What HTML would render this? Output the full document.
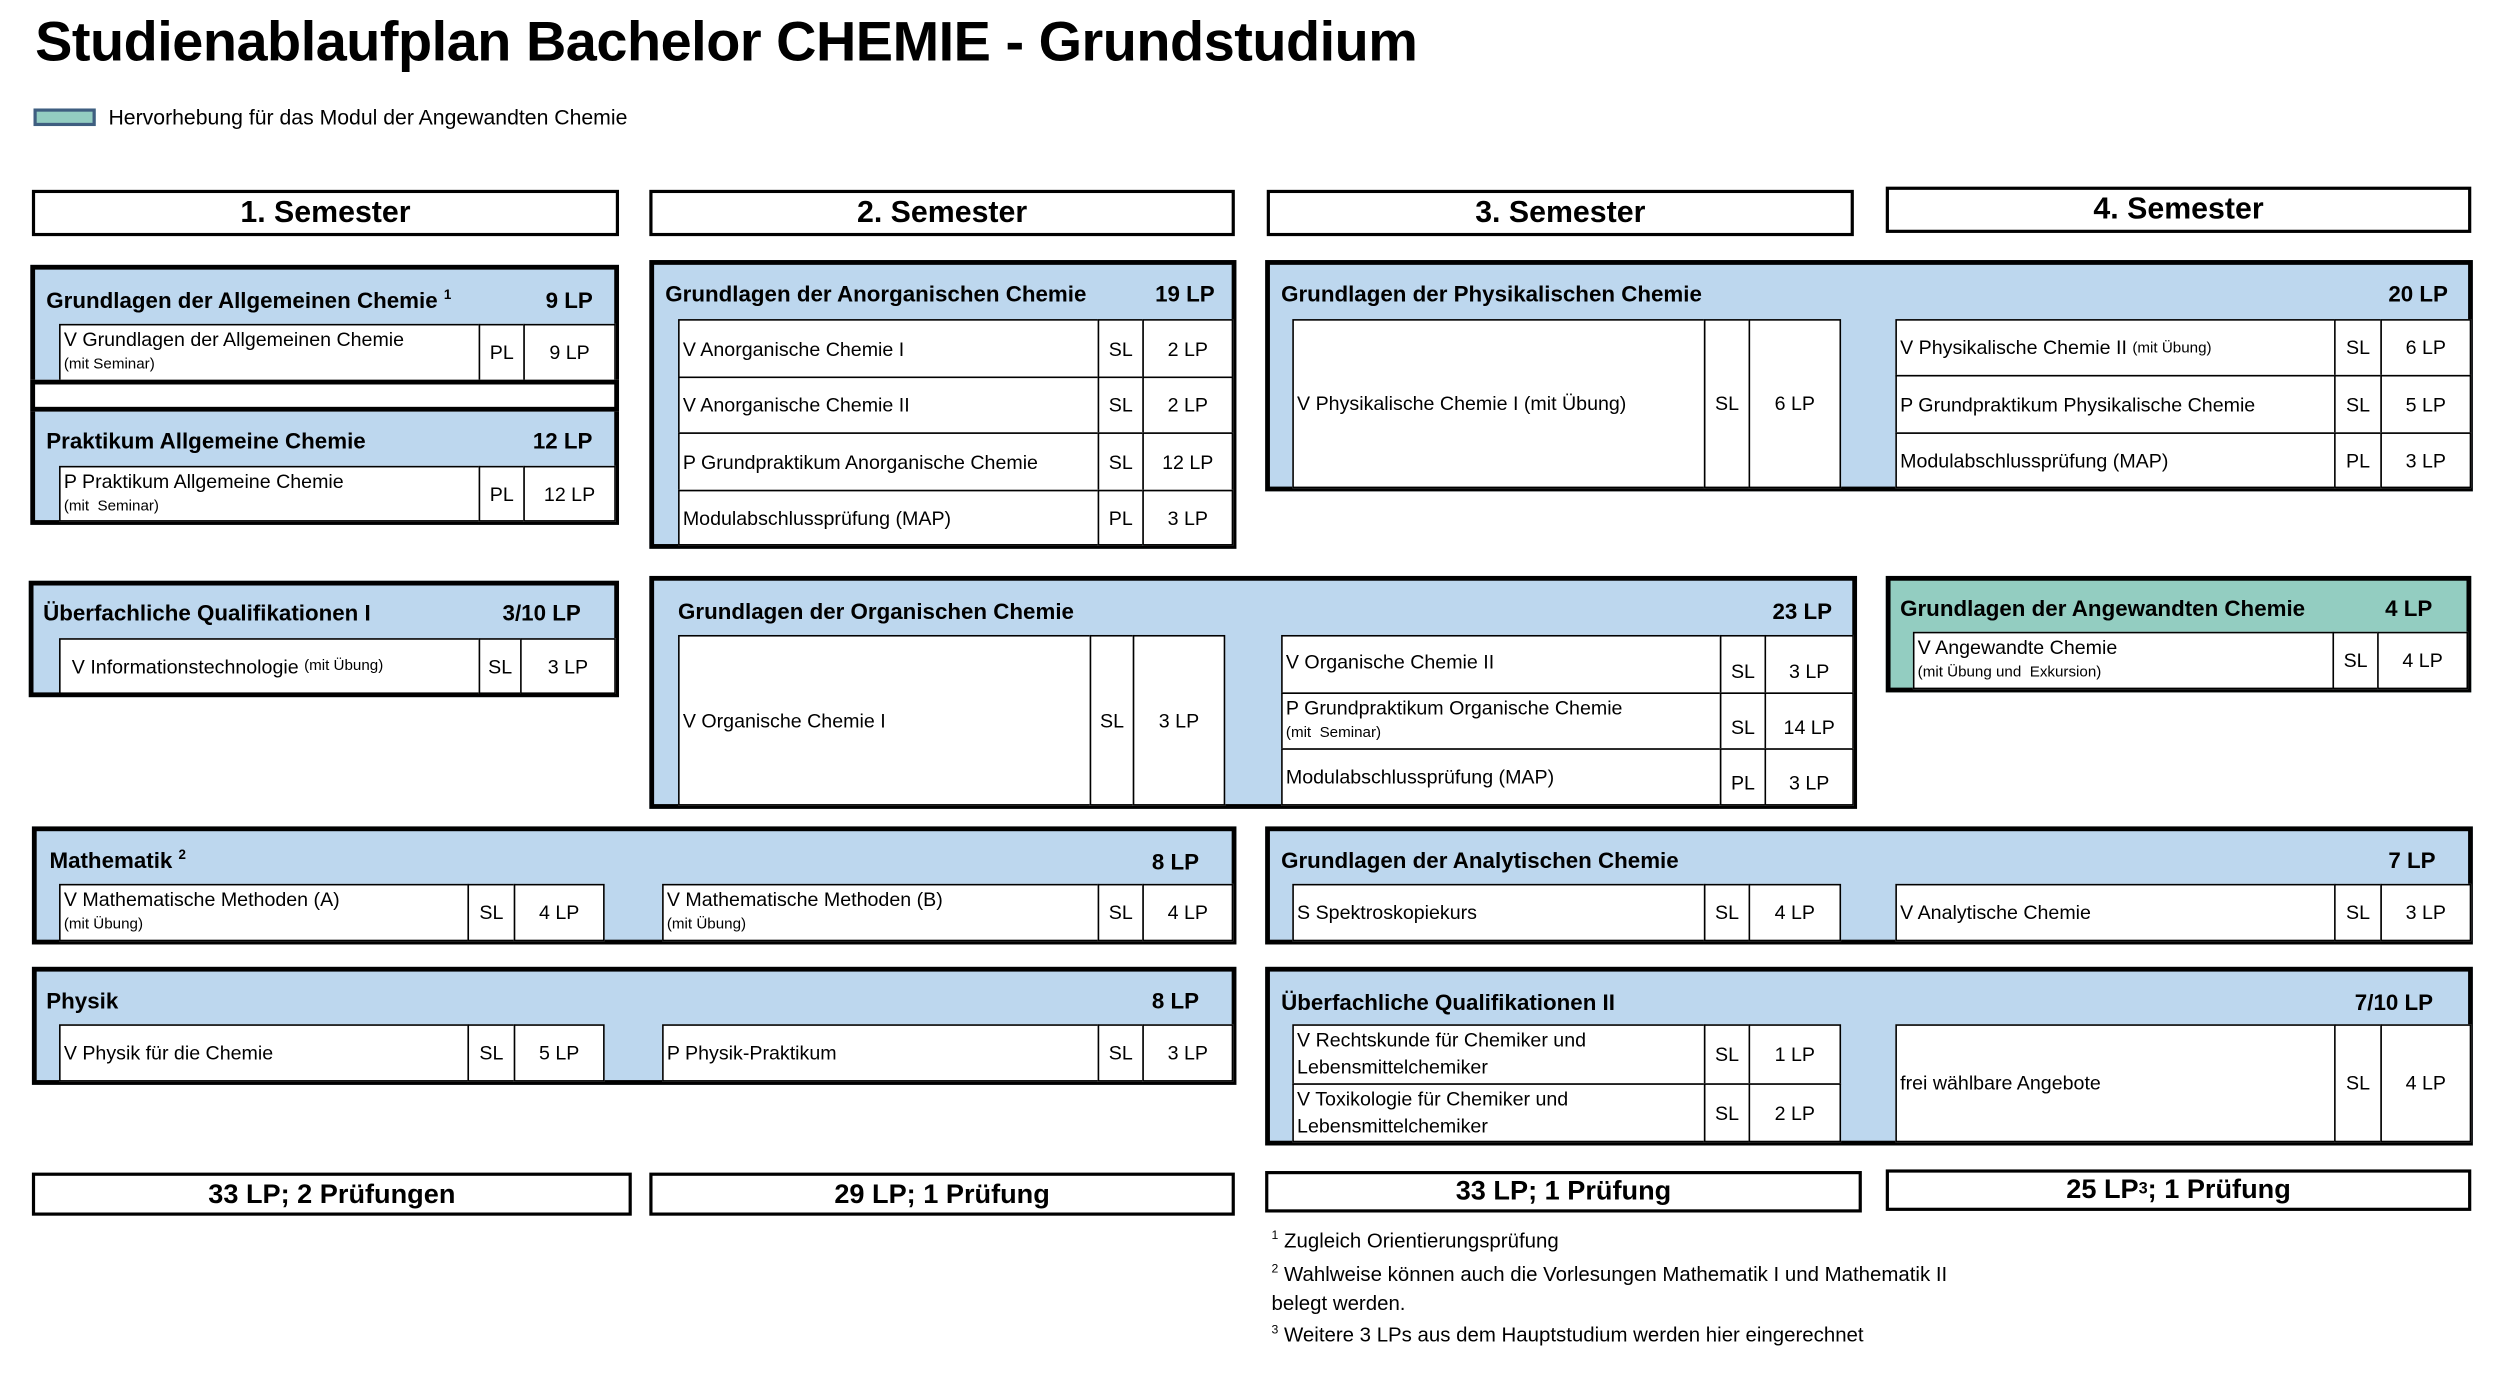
<!DOCTYPE html>
<html><head><meta charset="utf-8"><style>
html,body{margin:0;padding:0;background:#fff;width:2500px;height:1375px;overflow:hidden}
#p{position:absolute;left:0;top:0;width:1570px;height:862px;transform:scale(1.5954);transform-origin:0 0;font-family:"Liberation Sans",sans-serif;color:#000}
#p div{position:absolute;box-sizing:border-box}
.box{border:3px solid #000;background:#bdd7ee}
.tl{background:#93cdc1}
.h{font-weight:bold;font-size:14px;white-space:nowrap}
.c{background:#fff;border:1.5px solid #000;font-size:12.3px;display:flex;align-items:center;white-space:nowrap;padding-left:2px}
.m{justify-content:center;padding-left:0}
.c2{flex-direction:column;align-items:flex-start;justify-content:flex-start;padding-top:1px;line-height:16px}
.c3{flex-direction:column;align-items:flex-start;justify-content:center;line-height:17px}
.s{font-size:9.5px}
.sem{border:2px solid #000;background:#fff;font-weight:bold;font-size:19px;display:flex;align-items:center;justify-content:center}
.ft{border:2px solid #000;background:#fff;font-weight:bold;font-size:17px;display:flex;align-items:center;justify-content:center}
.fn{font-size:12.8px;white-space:nowrap}
sup{font-size:60%;vertical-align:super;line-height:0}
</style></head><body><div id="p">
<div style="left:22px;top:7px;font-size:35px;font-weight:bold;white-space:nowrap;letter-spacing:-0.3px">Studienablaufplan Bachelor CHEMIE - Grundstudium</div>
<div style="left:21px;top:68px;width:39px;height:11px;background:#93cdc1;border:2px solid #3f5e80"></div>
<div style="left:68px;top:66px;font-size:13.3px;white-space:nowrap">Hervorhebung für das Modul der Angewandten Chemie</div>

<div class="sem" style="left:20px;top:119px;width:368px;height:29px">1. Semester</div>
<div class="sem" style="left:407px;top:119px;width:367px;height:29px">2. Semester</div>
<div class="sem" style="left:794px;top:119px;width:368px;height:29px">3. Semester</div>
<div class="sem" style="left:1182px;top:117px;width:367px;height:29px">4. Semester</div>

<!-- Box 1 -->
<div class="box" style="left:19px;top:166px;width:369px;height:163px"></div>
<div class="h" style="left:29px;top:180px">Grundlagen der Allgemeinen Chemie <sup>1</sup></div>
<div class="h" style="left:342px;top:180px">9 LP</div>
<div class="c c2" style="left:37px;top:203px;width:264px;height:36px">V Grundlagen der Allgemeinen Chemie<span class="s">(mit Seminar)</span></div>
<div class="c m" style="left:300px;top:203px;width:29px;height:36px">PL</div>
<div class="c m" style="left:328px;top:203px;width:58px;height:36px">9 LP</div>
<div style="left:19px;top:238px;width:369px;height:20px;background:#fff;border:3px solid #000"></div>
<div class="h" style="left:29px;top:268px">Praktikum Allgemeine Chemie</div>
<div class="h" style="left:334px;top:268px">12 LP</div>
<div class="c c2" style="left:37px;top:292px;width:264px;height:35px">P Praktikum Allgemeine Chemie<span class="s">(mit&nbsp; Seminar)</span></div>
<div class="c m" style="left:300px;top:292px;width:29px;height:35px">PL</div>
<div class="c m" style="left:328px;top:292px;width:58px;height:35px">12 LP</div>

<!-- Anorganische -->
<div class="box" style="left:407px;top:163px;width:368px;height:181px"></div>
<div class="h" style="left:417px;top:176px">Grundlagen der Anorganischen Chemie</div>
<div class="h" style="left:724px;top:176px">19 LP</div>
<div class="c" style="left:425px;top:200px;width:264px;height:37px">V Anorganische Chemie I</div>
<div class="c m" style="left:688px;top:200px;width:29px;height:37px">SL</div>
<div class="c m" style="left:716px;top:200px;width:57px;height:37px">2 LP</div>
<div class="c" style="left:425px;top:236px;width:264px;height:36px">V Anorganische Chemie II</div>
<div class="c m" style="left:688px;top:236px;width:29px;height:36px">SL</div>
<div class="c m" style="left:716px;top:236px;width:57px;height:36px">2 LP</div>
<div class="c" style="left:425px;top:271px;width:264px;height:37px">P Grundpraktikum Anorganische Chemie</div>
<div class="c m" style="left:688px;top:271px;width:29px;height:37px">SL</div>
<div class="c m" style="left:716px;top:271px;width:57px;height:37px">12 LP</div>
<div class="c" style="left:425px;top:307px;width:264px;height:35px">Modulabschlussprüfung (MAP)</div>
<div class="c m" style="left:688px;top:307px;width:29px;height:35px">PL</div>
<div class="c m" style="left:716px;top:307px;width:57px;height:35px">3 LP</div>

<!-- Physikalische -->
<div class="box" style="left:793px;top:163px;width:757px;height:145px"></div>
<div class="h" style="left:803px;top:176px">Grundlagen der Physikalischen Chemie</div>
<div class="h" style="left:1497px;top:176px">20 LP</div>
<div class="c" style="left:810px;top:200px;width:259px;height:106px">V Physikalische Chemie I (mit Übung)</div>
<div class="c m" style="left:1068px;top:200px;width:29px;height:106px">SL</div>
<div class="c m" style="left:1096px;top:200px;width:58px;height:106px">6 LP</div>
<div class="c" style="left:1188px;top:200px;width:276px;height:36px">V Physikalische Chemie II&nbsp;<span class="s">(mit Übung)</span></div>
<div class="c m" style="left:1463px;top:200px;width:30px;height:36px">SL</div>
<div class="c m" style="left:1492px;top:200px;width:57px;height:36px">6 LP</div>
<div class="c" style="left:1188px;top:235px;width:276px;height:37px">P Grundpraktikum Physikalische Chemie</div>
<div class="c m" style="left:1463px;top:235px;width:30px;height:37px">SL</div>
<div class="c m" style="left:1492px;top:235px;width:57px;height:37px">5 LP</div>
<div class="c" style="left:1188px;top:271px;width:276px;height:35px">Modulabschlussprüfung (MAP)</div>
<div class="c m" style="left:1463px;top:271px;width:30px;height:35px">PL</div>
<div class="c m" style="left:1492px;top:271px;width:57px;height:35px">3 LP</div>

<!-- Überfachliche I -->
<div class="box" style="left:18px;top:364px;width:370px;height:73px"></div>
<div class="h" style="left:27px;top:376px">Überfachliche Qualifikationen I</div>
<div class="h" style="left:315px;top:376px">3/10 LP</div>
<div class="c" style="left:37px;top:400px;width:264px;height:35px;padding-left:7px">V Informationstechnologie&nbsp;<span class="s">(mit Übung)</span></div>
<div class="c m" style="left:300px;top:400px;width:27px;height:35px">SL</div>
<div class="c m" style="left:326px;top:400px;width:60px;height:35px">3 LP</div>

<!-- Organische -->
<div class="box" style="left:407px;top:361px;width:757px;height:146px"></div>
<div class="h" style="left:425px;top:375px">Grundlagen der Organischen Chemie</div>
<div class="h" style="left:1111px;top:375px">23 LP</div>
<div class="c" style="left:425px;top:398px;width:259px;height:107px">V Organische Chemie I</div>
<div class="c m" style="left:683px;top:398px;width:28px;height:107px">SL</div>
<div class="c m" style="left:710px;top:398px;width:58px;height:107px">3 LP</div>
<div class="c" style="left:803px;top:398px;width:276px;height:37px;align-items:flex-start;padding-top:9px">V Organische Chemie II</div>
<div class="c m" style="left:1078px;top:398px;width:29px;height:37px;padding-top:8px">SL</div>
<div class="c m" style="left:1106px;top:398px;width:56px;height:37px;padding-top:8px">3 LP</div>
<div class="c c2" style="left:803px;top:434px;width:276px;height:36px">P Grundpraktikum Organische Chemie<span class="s">(mit&nbsp; Seminar)</span></div>
<div class="c m" style="left:1078px;top:434px;width:29px;height:36px;padding-top:8px">SL</div>
<div class="c m" style="left:1106px;top:434px;width:56px;height:36px;padding-top:8px">14 LP</div>
<div class="c" style="left:803px;top:469px;width:276px;height:36px;align-items:flex-start;padding-top:10px">Modulabschlussprüfung (MAP)</div>
<div class="c m" style="left:1078px;top:469px;width:29px;height:36px;padding-top:8px">PL</div>
<div class="c m" style="left:1106px;top:469px;width:56px;height:36px;padding-top:8px">3 LP</div>

<!-- Angewandte -->
<div class="box tl" style="left:1182px;top:361px;width:367px;height:73px"></div>
<div class="h" style="left:1191px;top:373px">Grundlagen der Angewandten Chemie</div>
<div class="h" style="left:1495px;top:373px">4 LP</div>
<div class="c c2" style="left:1199px;top:396px;width:264px;height:36px">V Angewandte Chemie<span class="s">(mit Übung und&nbsp; Exkursion)</span></div>
<div class="c m" style="left:1462px;top:396px;width:29px;height:36px">SL</div>
<div class="c m" style="left:1490px;top:396px;width:57px;height:36px">4 LP</div>

<!-- Mathematik -->
<div class="box" style="left:20px;top:518px;width:755px;height:74px"></div>
<div class="h" style="left:31px;top:531px">Mathematik <sup>2</sup></div>
<div class="h" style="left:722px;top:532px">8 LP</div>
<div class="c c2" style="left:37px;top:554px;width:257px;height:36px">V Mathematische Methoden (A)<span class="s">(mit Übung)</span></div>
<div class="c m" style="left:293px;top:554px;width:30px;height:36px">SL</div>
<div class="c m" style="left:322px;top:554px;width:57px;height:36px">4 LP</div>
<div class="c c2" style="left:415px;top:554px;width:274px;height:36px">V Mathematische Methoden (B)<span class="s">(mit Übung)</span></div>
<div class="c m" style="left:688px;top:554px;width:29px;height:36px">SL</div>
<div class="c m" style="left:716px;top:554px;width:57px;height:36px">4 LP</div>

<!-- Physik -->
<div class="box" style="left:20px;top:606px;width:755px;height:74px"></div>
<div class="h" style="left:29px;top:619px">Physik</div>
<div class="h" style="left:722px;top:619px">8 LP</div>
<div class="c" style="left:37px;top:642px;width:257px;height:36px">V Physik für die Chemie</div>
<div class="c m" style="left:293px;top:642px;width:30px;height:36px">SL</div>
<div class="c m" style="left:322px;top:642px;width:57px;height:36px">5 LP</div>
<div class="c" style="left:415px;top:642px;width:274px;height:36px">P Physik-Praktikum</div>
<div class="c m" style="left:688px;top:642px;width:29px;height:36px">SL</div>
<div class="c m" style="left:716px;top:642px;width:57px;height:36px">3 LP</div>

<!-- Analytische -->
<div class="box" style="left:793px;top:518px;width:757px;height:74px"></div>
<div class="h" style="left:803px;top:531px">Grundlagen der Analytischen Chemie</div>
<div class="h" style="left:1497px;top:531px">7 LP</div>
<div class="c" style="left:810px;top:554px;width:259px;height:36px">S Spektroskopiekurs</div>
<div class="c m" style="left:1068px;top:554px;width:29px;height:36px">SL</div>
<div class="c m" style="left:1096px;top:554px;width:58px;height:36px">4 LP</div>
<div class="c" style="left:1188px;top:554px;width:276px;height:36px">V Analytische Chemie</div>
<div class="c m" style="left:1463px;top:554px;width:30px;height:36px">SL</div>
<div class="c m" style="left:1492px;top:554px;width:57px;height:36px">3 LP</div>

<!-- Überfachliche II -->
<div class="box" style="left:793px;top:606px;width:757px;height:112px"></div>
<div class="h" style="left:803px;top:620px">Überfachliche Qualifikationen II</div>
<div class="h" style="left:1476px;top:620px">7/10 LP</div>
<div class="c c3" style="left:810px;top:642px;width:259px;height:38px">V Rechtskunde für Chemiker und<span>Lebensmittelchemiker</span></div>
<div class="c m" style="left:1068px;top:642px;width:29px;height:38px">SL</div>
<div class="c m" style="left:1096px;top:642px;width:58px;height:38px">1 LP</div>
<div class="c c3" style="left:810px;top:679px;width:259px;height:37px">V Toxikologie für Chemiker und<span>Lebensmittelchemiker</span></div>
<div class="c m" style="left:1068px;top:679px;width:29px;height:37px">SL</div>
<div class="c m" style="left:1096px;top:679px;width:58px;height:37px">2 LP</div>
<div class="c" style="left:1188px;top:642px;width:276px;height:74px">frei wählbare Angebote</div>
<div class="c m" style="left:1463px;top:642px;width:30px;height:74px">SL</div>
<div class="c m" style="left:1492px;top:642px;width:57px;height:74px">4 LP</div>

<!-- Footer -->
<div class="ft" style="left:20px;top:735px;width:376px;height:27px">33 LP; 2 Prüfungen</div>
<div class="ft" style="left:407px;top:735px;width:367px;height:27px">29 LP; 1 Prüfung</div>
<div class="ft" style="left:793px;top:734px;width:374px;height:26px">33 LP; 1 Prüfung</div>
<div class="ft" style="left:1182px;top:733px;width:367px;height:26px">25 LP<sup>3</sup>; 1 Prüfung</div>

<div class="fn" style="left:797px;top:770px"><sup>1</sup> Zugleich Orientierungsprüfung</div>
<div class="fn" style="left:797px;top:791px"><sup>2</sup> Wahlweise können auch die Vorlesungen Mathematik I und Mathematik II</div>
<div class="fn" style="left:797px;top:809px">belegt werden.</div>
<div class="fn" style="left:797px;top:829px"><sup>3</sup> Weitere 3 LPs aus dem Hauptstudium werden hier eingerechnet</div>
</div></body></html>
